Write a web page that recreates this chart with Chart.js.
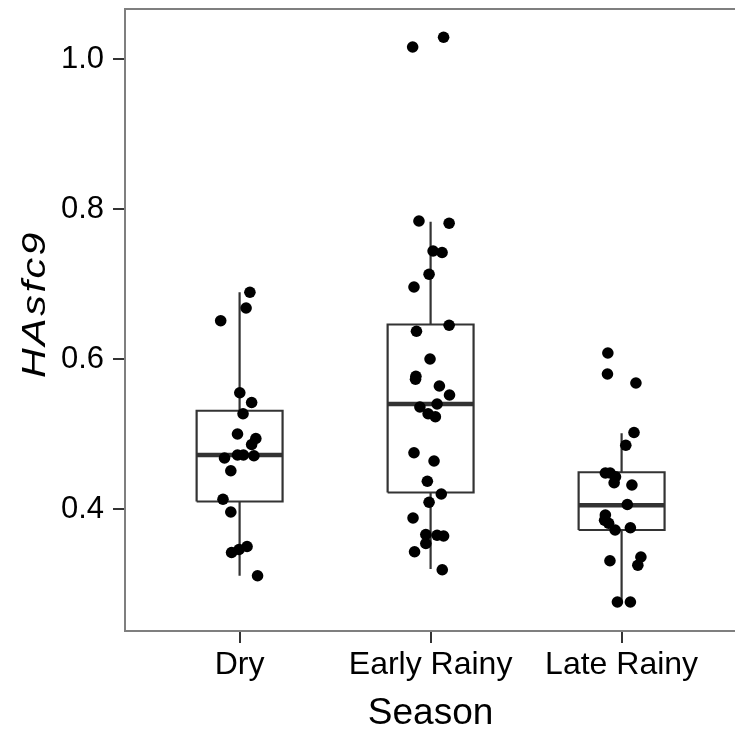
<!DOCTYPE html>
<html lang="en">
  <head>
    <meta charset="UTF-8" />
    <title>HAsfc9 by Season</title>
    <script src="https://cdn.jsdelivr.net/npm/chart.js"></script>
    <style>
      html, body {
        margin: 0;
        padding: 0;
        background: white;
        overflow: hidden;
      }
      #wrap {
        position: absolute;
        left: 0;
        top: 0;
        width: 742px;
        height: 736px;
      }
    </style>
  </head>
  <body>
    <div id="wrap"><canvas id="seasonChart"></canvas></div>

    <script>
      const categories = ['Dry', 'Early Rainy', 'Late Rainy'];
      const yTicks = [0.4, 0.6, 0.8, 1.0];
      const xTitle = 'Season';
      const yTitle = 'HAsfc9';

      // box summaries per season
      const whiskerLow = [0.311, 0.320, 0.275];
      const q1 = [0.410, 0.422, 0.372];
      const median = [0.472, 0.540, 0.405];
      const q3 = [0.531, 0.646, 0.449];
      const whiskerHigh = [0.689, 0.783, 0.501];

      // raw points (values) and their horizontal jitter
      const dryValues = [0.689, 0.668, 0.651, 0.555, 0.542, 0.527, 0.500, 0.494, 0.486, 0.472,
        0.472, 0.471, 0.468, 0.451, 0.413, 0.396, 0.350, 0.346, 0.342, 0.311];
      const dryJitter = [0.054, 0.034, -0.099, 0.001, 0.063, 0.018, -0.011, 0.085, 0.063, -0.011,
        0.020, 0.075, -0.079, -0.046, -0.087, -0.046, 0.039, -0.003, -0.042, 0.094];

      const earlyValues = [1.029, 1.016, 0.784, 0.781, 0.744, 0.742, 0.713, 0.696, 0.645, 0.637,
        0.600, 0.577, 0.573, 0.564, 0.552, 0.540, 0.536, 0.527, 0.523, 0.475, 0.464, 0.437,
        0.420, 0.409, 0.388, 0.366, 0.365, 0.364, 0.354, 0.343, 0.319];
      const earlyJitter = [0.068, -0.094, -0.061, 0.097, 0.013, 0.060, -0.008, -0.087, 0.097, -0.074,
        -0.003, -0.077, -0.079, 0.046, 0.099, 0.034, -0.056, -0.013, 0.025, -0.087, 0.018, -0.017,
        0.056, -0.008, -0.092, -0.025, 0.034, 0.068, -0.025, -0.084, 0.061];

      const lateValues = [0.608, 0.580, 0.568, 0.502, 0.485, 0.448, 0.448, 0.443, 0.435, 0.432,
        0.406, 0.392, 0.385, 0.381, 0.372, 0.375, 0.331, 0.336, 0.325, 0.276, 0.276];
      const lateJitter = [-0.072, -0.074, 0.075, 0.065, 0.022, -0.085, -0.060, -0.032, -0.039, 0.054,
        0.030, -0.085, -0.089, -0.068, -0.034, 0.046, -0.061, 0.101, 0.085, -0.022, 0.046];

      const pointValues = [dryValues, earlyValues, lateValues];
      const pointJitter = [dryJitter, earlyJitter, lateJitter];

      const boxHalf = 0.225;
      const boxColor = '#333333';

      const datasets = [];

      // jittered points on top
      pointValues.forEach((vals, i) => {
        datasets.push({
          data: vals.map((v, k) => ({ x: i + pointJitter[i][k], y: v })),
          pointRadius: 5.8,
          pointBackgroundColor: '#000000',
          pointBorderWidth: 0,
          showLine: false,
          order: 0
        });
      });

      function lineSet(points, width) {
        return {
          data: points,
          showLine: true,
          borderColor: boxColor,
          borderWidth: width,
          borderJoinStyle: 'miter',
          borderCapStyle: 'butt',
          pointRadius: 0,
          fill: false,
          tension: 0,
          order: 1
        };
      }

      categories.forEach((c, i) => {
        datasets.push(lineSet([
          { x: i - boxHalf, y: q1[i] },
          { x: i + boxHalf, y: q1[i] },
          { x: i + boxHalf, y: q3[i] },
          { x: i - boxHalf, y: q3[i] },
          { x: i - boxHalf, y: q1[i] }
        ], 2.2));
        datasets.push(lineSet([{ x: i - boxHalf, y: median[i] }, { x: i + boxHalf, y: median[i] }], 4.5));
        datasets.push(lineSet([{ x: i, y: q3[i] }, { x: i, y: whiskerHigh[i] }], 2.2));
        datasets.push(lineSet([{ x: i, y: whiskerLow[i] }, { x: i, y: q1[i] }], 2.2));
      });

      const panelBorder = {
        id: 'panelBorder',
        afterDraw(chart) {
          const a = chart.chartArea;
          const ctx = chart.ctx;
          ctx.save();
          ctx.strokeStyle = '#7f7f7f';
          ctx.lineWidth = 2;
          ctx.strokeRect(a.left, a.top, a.right - a.left + 10, a.bottom - a.top);
          ctx.restore();
        }
      };

      // italic y title, a bit wider than the stock font like the original
      const yTitlePlugin = {
        id: 'yTitlePlugin',
        afterDraw(chart) {
          const ctx = chart.ctx;
          ctx.save();
          ctx.translate(45, 304);
          ctx.rotate(-Math.PI / 2);
          ctx.scale(1.25, 1);
          ctx.font = 'italic 33px "Liberation Sans"';
          ctx.letterSpacing = '2px';
          ctx.fillStyle = '#000000';
          ctx.textAlign = 'center';
          ctx.textBaseline = 'alphabetic';
          ctx.fillText(yTitle, 0, 0);
          ctx.restore();
        }
      };

      new Chart(document.getElementById('seasonChart'), {
        type: 'scatter',
        data: { datasets: datasets },
        plugins: [panelBorder, yTitlePlugin],
        options: {
          responsive: true,
          maintainAspectRatio: false,
          animation: false,
          devicePixelRatio: 1,
          layout: { padding: { left: 0, top: 9, right: 0, bottom: 0 } },
          plugins: {
            legend: { display: false },
            tooltip: { enabled: false }
          },
          scales: {
            x: {
              type: 'linear',
              min: -0.6,
              max: 2.6,
              afterBuildTicks: (scale) => { scale.ticks = categories.map((c, i) => ({ value: i })); },
              afterFit: (scale) => {
                scale.height = 105;
                scale.paddingLeft = 0;
                scale.paddingRight = 0;
              },
              grid: { drawOnChartArea: false, drawTicks: true, tickLength: 12, color: '#333333', lineWidth: 2 },
              border: { display: false },
              ticks: {
                padding: 3,
                color: '#000000',
                font: { family: 'Liberation Sans', size: 32 },
                callback: (v) => categories[v]
              },
              title: {
                display: true,
                text: xTitle,
                color: '#000000',
                padding: { top: 0, bottom: 0 },
                font: { family: 'Liberation Sans', size: 37, lineHeight: 1.2 }
              }
            },
            y: {
              min: 0.2373,
              max: 1.0667,
              afterBuildTicks: (scale) => { scale.ticks = yTicks.map(v => ({ value: v })); },
              afterFit: (scale) => {
                scale.width = 125;
                scale.paddingTop = 0;
                scale.paddingBottom = 0;
              },
              grid: { drawOnChartArea: false, drawTicks: true, tickLength: 12, color: '#333333', lineWidth: 2 },
              border: { display: false },
              ticks: {
                padding: 9,
                color: '#000000',
                font: { family: 'Liberation Sans', size: 31 },
                callback: (v) => v.toFixed(1)
              },
              title: { display: false, text: yTitle }
            }
          }
        }
      });
    </script>
  </body>
</html>
